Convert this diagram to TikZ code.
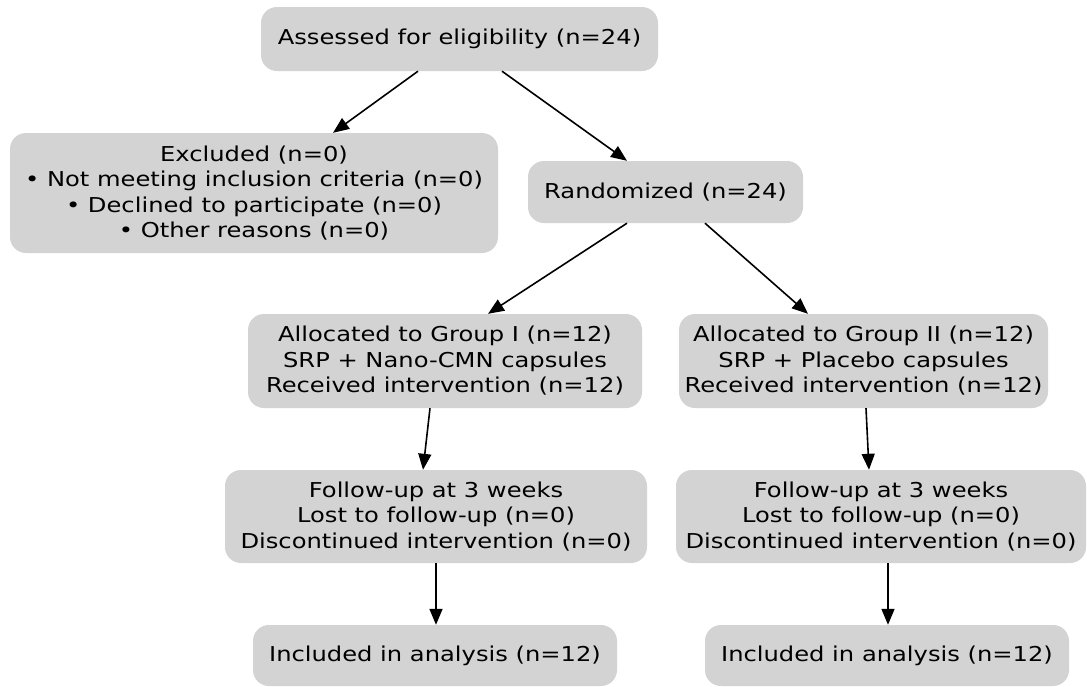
\documentclass[tikz,border=0pt]{standalone}
\usepackage{fontspec}
\setmainfont{DejaVu Sans}[FakeStretch=1.18]
\usetikzlibrary{arrows.meta}
\definecolor{boxgray}{HTML}{D3D3D3}
\tikzset{
  box/.style={rectangle, rounded corners=16pt, fill=boxgray, draw=none,
    inner sep=0pt, align=center, font=\fontsize{20.5pt}{25.5pt}\selectfont},
  arr/.style={line width=1.6pt, -{Triangle[length=16pt,width=13pt]}}
}
\begin{document}
\begin{tikzpicture}[x=1pt,y=-1pt]
\useasboundingbox (0,0) rectangle (1087,686);
\node[box, minimum width=397pt, minimum height=64pt] (A) at (459.5,39) {Assessed for eligibility (n=24)};
\node[box, minimum width=488pt, minimum height=120pt] (E) at (254,193) {Excluded (n=0)\\• Not meeting inclusion criteria (n=0)\\• Declined to participate (n=0)\\• Other reasons (n=0)};
\node[box, minimum width=275pt, minimum height=62pt] (R) at (665.5,192) {Randomized (n=24)};
\node[box, minimum width=394pt, minimum height=94pt] (G1) at (445,361) {Allocated to Group I (n=12)\\SRP + Nano-CMN capsules\\Received intervention (n=12)};
\node[box, minimum width=369pt, minimum height=94pt] (G2) at (863.5,361) {Allocated to Group II (n=12)\\SRP + Placebo capsules\\Received intervention (n=12)};
\node[box, minimum width=422pt, minimum height=93pt] (F1) at (436,516.5) {Follow-up at 3 weeks\\Lost to follow-up (n=0)\\Discontinued intervention (n=0)};
\node[box, minimum width=410pt, minimum height=93pt] (F2) at (881,516.5) {Follow-up at 3 weeks\\Lost to follow-up (n=0)\\Discontinued intervention (n=0)};
\node[box, minimum width=364pt, minimum height=61pt] (I1) at (435,655.5) {Included in analysis (n=12)};
\node[box, minimum width=364pt, minimum height=61pt] (I2) at (887,655.5) {Included in analysis (n=12)};
\draw[arr] ([xshift=-41.5pt]A.south) -- ([xshift=79pt]E.north);
\draw[arr] ([xshift=42.5pt]A.south) -- ([xshift=-38.5pt]R.north);
\draw[arr] ([xshift=-38.5pt]R.south) -- ([xshift=43pt]G1.north);
\draw[arr] ([xshift=39.5pt]R.south) -- ([xshift=-55.5pt]G2.north);
\draw[arr] ([xshift=-15pt]G1.south) -- ([xshift=-13pt]F1.north);
\draw[arr] ([xshift=2.5pt]G2.south) -- ([xshift=-12pt]F2.north);
\draw[arr] (F1.south) -- ([xshift=1pt]I1.north);
\draw[arr] ([xshift=7pt]F2.south) -- ([xshift=1pt]I2.north);
\end{tikzpicture}
\end{document}
